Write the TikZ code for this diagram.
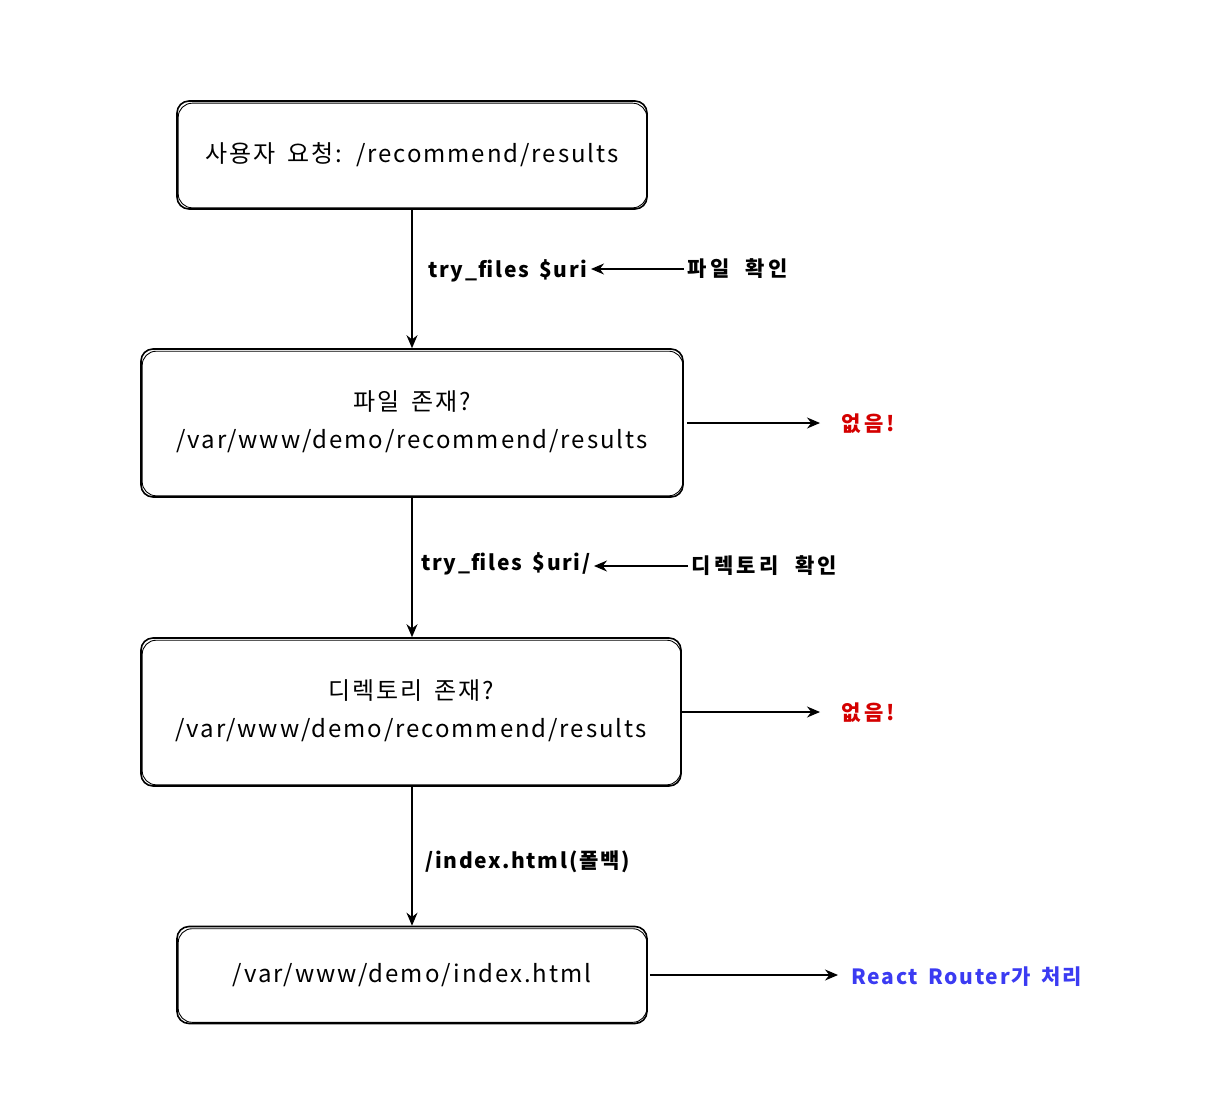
\documentclass[tikz,border=0pt]{standalone}
\usepackage{fontspec}
\setmainfont{Noto Sans CJK KR}
\newfontfamily\boxfnt{Noto Sans CJK KR}[LetterSpace=8,WordSpace=2.2]
\newfontfamily\lblfnt{Noto Sans CJK KR}[LetterSpace=8,WordSpace=1.6]
\newfontfamily\klblfnt{Noto Sans CJK KR}[LetterSpace=16,WordSpace=2]
\usetikzlibrary{arrows.meta,calc}
\definecolor{nored}{HTML}{D40000}
\definecolor{rblue}{HTML}{3B3BF2}
\tikzset{
  box/.style={draw=black, line width=1.6pt, rounded corners=12pt, inner sep=0pt},
  boxtext/.style={font=\boxfnt\fontsize{24}{38}\selectfont, align=center},
  lbl/.style={font=\lblfnt\bfseries\fontsize{21}{24}\selectfont},
  klbl/.style={font=\klblfnt\bfseries\fontsize{21}{24}\selectfont},
  conn/.style={draw=black, line width=1.3pt, -{Stealth[length=13pt,width=11pt]}},
  sketch/.style={draw=black, line width=0.9pt, rounded corners=14pt},
}
\begin{document}
\begin{tikzpicture}[x=1pt,y=-1pt]
\useasboundingbox (0,0) rectangle (1206,1102);
% boxes
\node[box, minimum width=470pt, minimum height=108pt] (b1) at (412,155) {};
\draw[sketch] ($(b1.south west)+(2,-2)$) rectangle ($(b1.north east)+(-1,3)$);
\node[boxtext] (t1) at (412,155) {사용자 요청: /recommend/results};
\node[box, minimum width=542pt, minimum height=148pt] (b2) at (412,423) {};
\draw[sketch] ($(b2.south west)+(2,-2)$) rectangle ($(b2.north east)+(-1,3)$);
\node[boxtext] (t2) at (412,422) {파일 존재?\\/var/www/demo/recommend/results};
\node[box, minimum width=540pt, minimum height=148pt] (b3) at (411,712) {};
\draw[sketch] ($(b3.south west)+(2,-2)$) rectangle ($(b3.north east)+(-1,3)$);
\node[boxtext] (t3) at (411,711) {디렉토리 존재?\\/var/www/demo/recommend/results};
\node[box, minimum width=470pt, minimum height=97pt] (b4) at (412,975) {};
\draw[sketch] ($(b4.south west)+(2,-2)$) rectangle ($(b4.north east)+(-1,3)$);
\node[boxtext] (t4) at (412,975) {/var/www/demo/index.html};
% labels
\node[lbl, anchor=east] (l1) at (591,271) {try\_files \$uri};
\node[klbl, anchor=west] (c1) at (684,269) {파일 확인};
\node[lbl, anchor=east] (l2) at (594,564) {try\_files \$uri/};
\node[klbl, anchor=west] (c2) at (688,566) {디렉토리 확인};
\node[lbl, anchor=west] (l3) at (422,862) {/index.html(폴백)};
\node[klbl, text=nored, anchor=west] (n1) at (838,424) {없음!};
\node[klbl, text=nored, anchor=west] (n2) at (838,713) {없음!};
\node[lbl, text=rblue, anchor=west] (r1) at (848,977) {React Router가 처리};
% connectors
\draw[conn] (b1.south) -- (b1.south |- b2.north);
\draw[conn] (b2.south) -- (b2.south |- b3.north);
\draw[conn] (b3.south -| b2.south) -- (b2.south |- b4.north);
\draw[conn] (c1.west) -- (c1.west -| l1.east);
\draw[conn] (c2.west) -- (c2.west -| l2.east);
\coordinate (e1) at (820,423);
\coordinate (e2) at (820,712);
\coordinate (e3) at (838,975);
\draw[conn] ($(b2.east)+(3,0)$) -- (e1);
\draw[conn] (b3.east) -- (e2);
\draw[conn] ($(b4.east)+(2,0)$) -- (e3);
\end{tikzpicture}
\end{document}
